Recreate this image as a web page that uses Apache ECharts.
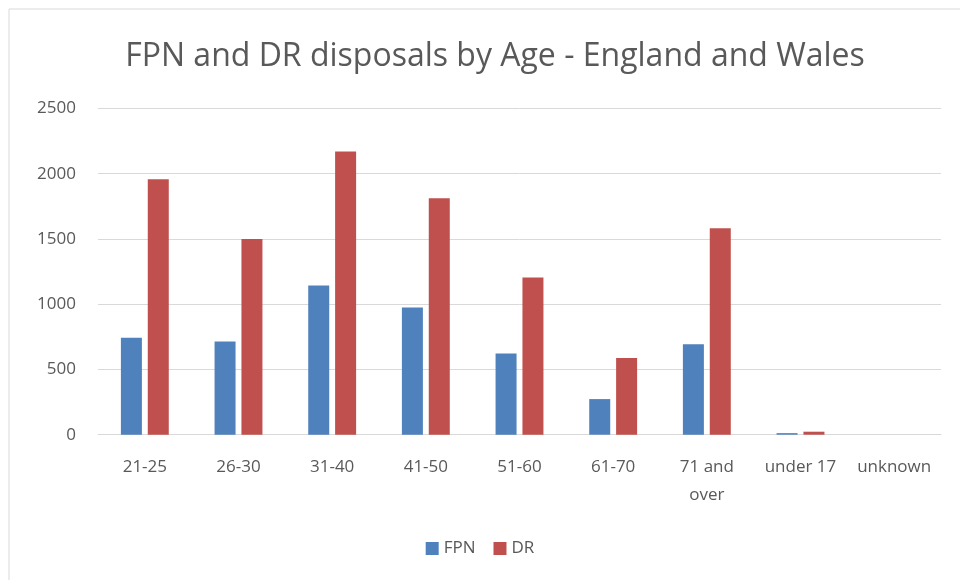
<!DOCTYPE html>
<html>
<head>
<meta charset="utf-8">
<style>
  html, body { margin: 0; padding: 0; background: #ffffff; }
  #chart { width: 960px; height: 580px; }
</style>
<script src="https://cdn.jsdelivr.net/npm/echarts@6/dist/echarts.min.js"></script>
</head>
<body>
<div id="chart"></div>
<script>
// Age bands and disposal counts
const ageBands = ['21-25', '26-30', '31-40', '41-50', '51-60', '61-70', '71 and\nover', 'under 17', 'unknown'];
const fpnValues = [743, 715, 1144, 975, 623, 273, 694, 12, 0];
const drValues = [1958, 1500, 2170, 1812, 1205, 587, 1583, 23, 0];
const yTicks = { min: 0, max: 2500, interval: 500 };

const textColor = '#595959';
const fontFam = '"Open Sans", Calibri, Carlito, sans-serif';

const chart = echarts.init(document.getElementById('chart'), null, { renderer: 'canvas' });
chart.setOption({
  backgroundColor: '#ffffff',
  animation: false,
  graphic: [{
    type: 'rect',
    shape: { x: 9, y: 9, width: 980, height: 600 },
    style: { fill: 'none', stroke: '#d9d9d9', lineWidth: 1 },
    silent: true
  }],
  title: {
    text: 'FPN and DR disposals by Age - England and Wales',
    left: 490,
    top: 36,
    textAlign: 'center',
    textStyle: { fontFamily: fontFam, fontSize: 32, fontWeight: 'normal', color: textColor }
  },
  legend: {
    data: ['FPN', 'DR'],
    bottom: 18,
    left: 'center',
    itemWidth: 13,
    itemHeight: 13,
    itemGap: 18,
    icon: 'rect',
    textStyle: { fontFamily: fontFam, fontSize: 17, color: textColor }
  },
  grid: { left: 98, right: 19, top: 108.5, bottom: 145.3, containLabel: false },
  xAxis: {
    type: 'category',
    data: ageBands,
    axisLine: { lineStyle: { color: '#d9d9d9', width: 1 } },
    axisTick: { show: false },
    axisLabel: {
      interval: 0,
      fontFamily: fontFam, fontSize: 17, color: textColor,
      margin: 18, lineHeight: 28
    }
  },
  yAxis: {
    type: 'value',
    min: yTicks.min,
    max: yTicks.max,
    interval: yTicks.interval,
    axisLine: { show: false },
    axisTick: { show: false },
    splitLine: { lineStyle: { color: '#d9d9d9', width: 1 } },
    axisLabel: {
      fontFamily: fontFam, fontSize: 17, color: textColor, margin: 22,
      formatter: v => String(v)
    }
  },
  series: [
    {
      name: 'FPN', type: 'bar', data: fpnValues,
      barWidth: 21, barGap: '28%', barCategoryGap: '48%',
      itemStyle: { color: '#4F81BD' }
    },
    {
      name: 'DR', type: 'bar', data: drValues,
      barWidth: 21,
      itemStyle: { color: '#C0504D' }
    }
  ]
});
</script>
</body>
</html>
